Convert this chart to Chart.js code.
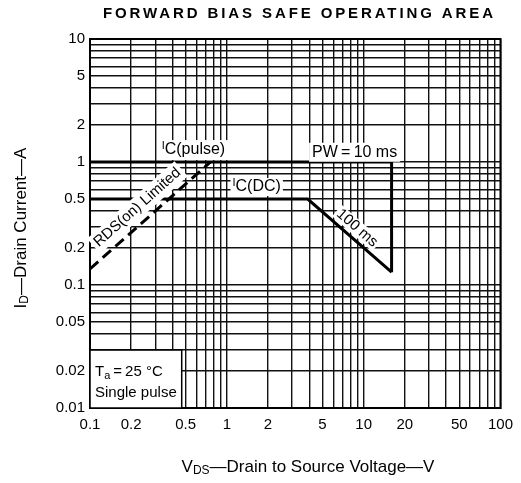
<!DOCTYPE html>
<html><head><meta charset="utf-8">
<script src="https://cdn.jsdelivr.net/npm/chart.js@4/dist/chart.umd.min.js"></script>
<style>html,body{margin:0;padding:0;background:#fff}</style>
</head><body>
<canvas id="c" width="521" height="483" style="display:block;width:521px;height:483px"></canvas>
<script>
// ---- data ----
const xTickLabels = [0.1, 0.2, 0.5, 1, 2, 5, 10, 20, 50, 100];
const yTickLabels = [0.01, 0.02, 0.05, 0.1, 0.2, 0.5, 1, 2, 5, 10];
const pulseV = [0.1, 16, 16];      // IC(pulse) / PW = 10 ms boundary
const pulseI = [1, 1, 0.127];
const dcV = [0.1, 3.9, 16];        // IC(DC) / 100 ms boundary
const dcI = [0.5, 0.5, 0.127];
const rdsV = [0.1, 0.76];          // RDS(on) limited
const rdsI = [0.135, 1];

const FONT = '"Liberation Sans", Arial, Helvetica, sans-serif';

function gridValues(min, max) {
  const out = [];
  for (let e = Math.round(Math.log10(min)); e < Math.round(Math.log10(max)); e++) {
    for (let m = 1; m <= 9; m++) out.push(+(m * Math.pow(10, e)).toPrecision(3));
  }
  out.push(max);
  return out;
}
const pts = (xs, ys) => xs.map((v, i) => ({x: v, y: ys[i]}));
const isLabel = (arr, v) => arr.some(t => Math.abs(t - v) / t < 1e-6);

function partsWidth(ctx, parts) {
  let w = 0;
  for (const p of parts) { ctx.font = p.f; w += ctx.measureText(p.t).width; }
  return w;
}
function drawParts(ctx, parts, x, y) {
  let cx = x;
  ctx.textBaseline = 'middle'; ctx.textAlign = 'left';
  for (const p of parts) {
    ctx.font = p.f;
    ctx.fillText(p.t, cx, y + (p.dy || 0));
    cx += ctx.measureText(p.t).width;
  }
}
// label with white background, centered at (x,y) rotated by ang
function label(ctx, parts, x, y, ang, padX, padY, h) {
  const w = partsWidth(ctx, parts);
  ctx.save();
  ctx.translate(x, y); ctx.rotate(ang || 0);
  ctx.fillStyle = '#fff';
  ctx.fillRect(-w / 2 - padX, -h / 2 - padY, w + 2 * padX, h + 2 * padY);
  ctx.fillStyle = '#000';
  drawParts(ctx, parts, -w / 2, 0);
  ctx.restore();
}

const deco = {
  id: 'deco',
  afterDatasetsDraw(chart) {
    const {ctx, chartArea: a, scales: {x, y}} = chart;
    ctx.save();
    // frame
    ctx.strokeStyle = '#000'; ctx.lineWidth = 2;
    ctx.strokeRect(a.left, a.top, a.right - a.left, a.bottom - a.top);

    // RDS(on) Limited (rotated along dashed line)
    const r0x = x.getPixelForValue(rdsV[0]), r0y = y.getPixelForValue(rdsI[0]);
    const r1x = x.getPixelForValue(rdsV[1]), r1y = y.getPixelForValue(rdsI[1]);
    const angR = Math.atan2(r1y - r0y, r1x - r0x);
    label(ctx, [{t: 'RDS(on) Limited', f: '15px ' + FONT}],
      x.getPixelForValue(0.222), y.getPixelForValue(0.427), angR, 3, 3, 14);

    // 100 ms (rotated along DC slope)
    const d0x = x.getPixelForValue(dcV[1]), d0y = y.getPixelForValue(dcI[1]);
    const d1x = x.getPixelForValue(dcV[2]), d1y = y.getPixelForValue(dcI[2]);
    const angD = Math.atan2(d1y - d0y, d1x - d0x);
    label(ctx, [{t: '100 ms', f: '15px ' + FONT}],
      x.getPixelForValue(8.95), y.getPixelForValue(0.29), angD, 2, 1, 13);

    // IC(pulse)
    const pP = [{t: 'I', f: '11px ' + FONT, dy: -4}, {t: 'C(pulse)', f: '16px ' + FONT}];
    const wP = partsWidth(ctx, pP);
    label(ctx, pP, x.getPixelForValue(0.334) + wP / 2, y.getPixelForValue(1.25), 0, 3, 2, 16);
    // IC(DC)
    const pD = [{t: 'I', f: '11px ' + FONT, dy: -4}, {t: 'C(DC)', f: '16px ' + FONT}];
    const wD = partsWidth(ctx, pD);
    label(ctx, pD, x.getPixelForValue(1.1) + wD / 2, y.getPixelForValue(0.626), 0, 2, 2, 14);
    // PW = 10 ms
    const pW = [{t: 'PW\u2009=\u200910 ms', f: '16px ' + FONT}];
    const wW = partsWidth(ctx, pW);
    label(ctx, pW, x.getPixelForValue(4.2) + wW / 2, y.getPixelForValue(1.2), 0, 3, 2, 15);

    // Ta box
    const bx = a.left, by = y.getPixelForValue(0.0296), bw = x.getPixelForValue(0.468) - a.left, bh = a.bottom - by;
    ctx.fillStyle = '#fff'; ctx.fillRect(bx, by, bw, bh);
    ctx.strokeStyle = '#000'; ctx.lineWidth = 1.5; ctx.strokeRect(bx, by, bw, bh);
    ctx.fillStyle = '#000';
    drawParts(ctx, [{t: 'T', f: '15px ' + FONT}, {t: 'a', f: '11px ' + FONT, dy: 4},
      {t: '\u2009=\u200925 \u00B0C', f: '15px ' + FONT}], bx + 5, by + 22);
    drawParts(ctx, [{t: 'Single pulse', f: '15px ' + FONT}], bx + 5, by + 43);

    // title
    ctx.fillStyle = '#000';
    ctx.font = 'bold 15px ' + FONT;
    const title = 'FORWARD BIAS SAFE OPERATING AREA';
    const tw = ctx.measureText(title).width;
    const ls = (390 - tw) / (title.length - 1);
    ctx.letterSpacing = ls + 'px';
    ctx.textAlign = 'left'; ctx.textBaseline = 'middle';
    ctx.fillText(title, 103, 14);
    ctx.letterSpacing = '0px';

    // x axis title
    const xt = [{t: 'V', f: '17px ' + FONT}, {t: 'DS', f: '12px ' + FONT, dy: 4},
      {t: '\u2014Drain to Source Voltage\u2014V', f: '17px ' + FONT}];
    const xw = partsWidth(ctx, xt);
    drawParts(ctx, xt, 308 - xw / 2, 467);

    // y axis title
    const yt = [{t: 'I', f: '17px ' + FONT}, {t: 'D', f: '12px ' + FONT, dy: 4},
      {t: '\u2014Drain Current\u2014A', f: '17px ' + FONT}];
    const yw = partsWidth(ctx, yt);
    ctx.save(); ctx.translate(21, 228); ctx.rotate(-Math.PI / 2);
    drawParts(ctx, yt, -yw / 2, 0);
    ctx.restore();

    ctx.restore();
  }
};

const gridOpts = {color: '#111', lineWidth: 1.4, drawTicks: false};
new Chart(document.getElementById('c'), {
  type: 'line',
  data: {
    datasets: [
      {data: pts(pulseV, pulseI), borderColor: '#000', borderWidth: 3, pointRadius: 0, tension: 0, fill: false},
      {data: pts(dcV, dcI), borderColor: '#000', borderWidth: 3, pointRadius: 0, tension: 0, fill: false},
      {data: pts(rdsV, rdsI), borderColor: '#000', borderWidth: 3, borderDash: [11, 6], pointRadius: 0, tension: 0, fill: false}
    ]
  },
  options: {
    responsive: false, animation: false, devicePixelRatio: 1,
    layout: {padding: {left: 30, right: 19, top: 39, bottom: 45}},
    plugins: {legend: {display: false}, tooltip: {enabled: false}, title: {display: false}},
    scales: {
      x: {
        type: 'logarithmic', min: 0.1, max: 100,
        afterBuildTicks: s => { s.ticks = gridValues(0.1, 100).map(v => ({value: v})); },
        afterFit: s => { s.height = 30; },
        grid: gridOpts, border: {display: true, color: '#000', width: 2},
        ticks: {autoSkip: false, maxRotation: 0, padding: 8, color: '#000', font: {family: FONT, size: 15},
          callback: v => isLabel(xTickLabels, v) ? String(v) : ''}
      },
      y: {
        type: 'logarithmic', min: 0.01, max: 10,
        afterBuildTicks: s => { s.ticks = gridValues(0.01, 10).map(v => ({value: v})); },
        afterFit: s => { s.width = 60; },
        grid: gridOpts, border: {display: true, color: '#000', width: 2},
        ticks: {autoSkip: false, padding: 5, color: '#000', font: {family: FONT, size: 15},
          callback: v => isLabel(yTickLabels, v) ? String(v) : ''}
      }
    }
  },
  plugins: [deco]
});
</script>
</body></html>
